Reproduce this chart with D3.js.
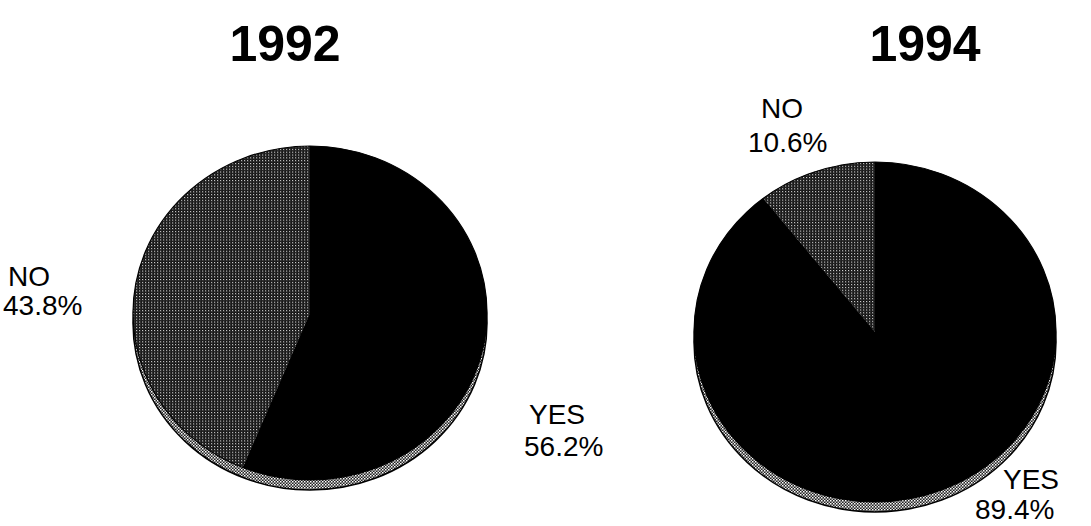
<!DOCTYPE html>
<html>
<head>
<meta charset="utf-8">
<script src="https://cdn.jsdelivr.net/npm/d3@7"></script>
<style>
  html, body { margin: 0; padding: 0; background: #fff; }
  svg { display: block; }
</style>
</head>
<body>
<svg id="chart" width="1091" height="526"></svg>
<script>
// ---- data ----
const years = ["1992", "1994"];
const categories = ["NO", "YES"];
const values1992 = [43.8, 56.2];
const values1994 = [10.6, 89.4];
const labels1992 = ["43.8%", "56.2%"];
const labels1994 = ["10.6%", "89.4%"];

// ---- layout ----
const svg = d3.select("#chart");
const defs = svg.append("defs");
const FONT = "Liberation Sans, Arial, Helvetica, sans-serif";

// halftone pattern for NO slices
const pNo = defs.append("pattern").attr("id", "pNo")
  .attr("patternUnits", "userSpaceOnUse").attr("width", 3).attr("height", 3);
pNo.append("rect").attr("width", 3).attr("height", 3).attr("fill", "#111");
pNo.append("rect").attr("x", 0).attr("y", 0).attr("width", 1.2).attr("height", 1.2).attr("fill", "#d0d0d0");
pNo.append("rect").attr("x", 1.5).attr("y", 1.5).attr("width", 0.8).attr("height", 0.8).attr("fill", "#777");

// lighter halftone for rim
const pRim = defs.append("pattern").attr("id", "pRim")
  .attr("patternUnits", "userSpaceOnUse").attr("width", 3).attr("height", 3);
pRim.append("rect").attr("width", 3).attr("height", 3).attr("fill", "#222");
pRim.append("rect").attr("x", 0).attr("y", 0).attr("width", 1.5).attr("height", 1.5).attr("fill", "#fff");
pRim.append("rect").attr("x", 1.5).attr("y", 1.5).attr("width", 1.5).attr("height", 1.5).attr("fill", "#ccc");

const color = d3.scaleOrdinal().domain(categories).range(["url(#pNo)", "#000"]);

const charts = [
  { year: years[0], values: values1992, pct: labels1992,
    cx: 310, cy: 313, rx: 177, ry: 167, depth: 10,
    titleX: 285, titleY: 61,
    lab: [{x: 8, y: 286, x2: 3, y2: 315}, {x: 529, y: 424, x2: 524, y2: 456}] },
  { year: years[1], values: values1994, pct: labels1994,
    cx: 875, cy: 332, rx: 181, ry: 170, depth: 10,
    titleX: 925, titleY: 61,
    lab: [{x: 761, y: 118, x2: 748, y2: 152}, {x: 1003, y: 489, x2: 975, y2: 519}] }
];

const pie = d3.pie().sort(null).value(d => d.v)
  .startAngle(0).endAngle(-2 * Math.PI);

charts.forEach(c => {
  const data = categories.map((k, i) => ({ k, v: c.values[i] }));
  const g = svg.append("g").attr("transform", `translate(${c.cx},${c.cy})`);

  // rim (3D thickness)
  g.append("ellipse")
    .attr("cx", 0).attr("cy", c.depth)
    .attr("rx", c.rx).attr("ry", c.ry)
    .attr("fill", "url(#pRim)")
    .attr("stroke", "#000").attr("stroke-width", 1.5);

  // top surface
  const top = g.append("g").attr("transform", `scale(1,${c.ry / c.rx})`);
  const arc = d3.arc().innerRadius(0).outerRadius(c.rx);
  top.selectAll("path").data(pie(data)).join("path")
    .attr("d", arc)
    .attr("fill", d => color(d.data.k))
    .attr("stroke", "none");
  top.append("circle").attr("r", c.rx).attr("fill", "none")
    .attr("stroke", "#000").attr("stroke-width", 1.2);

  // title
  svg.append("text")
    .attr("x", c.titleX).attr("y", c.titleY)
    .attr("text-anchor", "middle")
    .attr("font-family", FONT)
    .attr("font-weight", "bold").attr("font-size", 50)
    .attr("fill", "#000").text(c.year);

  // labels (category and percentage as separate texts)
  categories.forEach((k, i) => {
    const L = c.lab[i];
    svg.append("text").attr("x", L.x).attr("y", L.y)
      .attr("font-family", FONT).attr("font-size", 28).attr("fill", "#000")
      .text(k);
    svg.append("text").attr("x", L.x2).attr("y", L.y2)
      .attr("font-family", FONT).attr("font-size", 28).attr("fill", "#000")
      .text(c.pct[i]);
  });
});
</script>
</body>
</html>
